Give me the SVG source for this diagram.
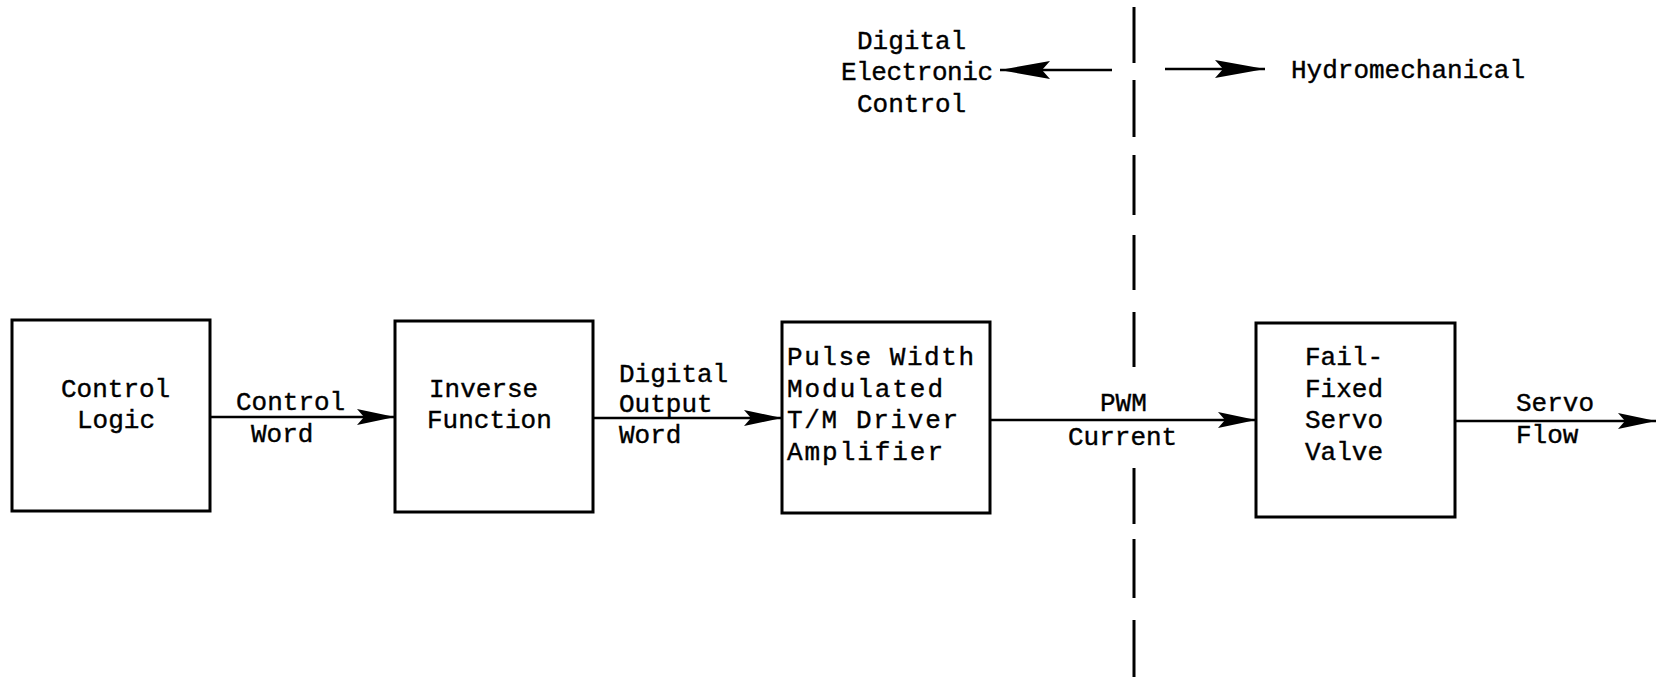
<svg xmlns="http://www.w3.org/2000/svg" width="1657" height="677" viewBox="0 0 1657 677">
  <style>
    .box { fill: #fff; stroke: #000; stroke-width: 3; }
    .wire { fill: none; stroke: #000; stroke-width: 2.6; }
    .divider { fill: none; stroke: #000; stroke-width: 3; }
    text { font-family: "Liberation Mono", "DejaVu Sans Mono", monospace; font-size: 26px; fill: #000; stroke: #000; stroke-width: 0.4; }
  </style>
  <defs>
    <marker id="head" viewBox="-40 -10 42 20" refX="0" refY="0" markerWidth="42" markerHeight="20" markerUnits="userSpaceOnUse" orient="auto">
      <path d="M0,0 L-38,-8 L-31,0 L-38,8 Z" fill="#000"/>
    </marker>
    <marker id="head-lg" viewBox="-54 -12 56 24" refX="0" refY="0" markerWidth="56" markerHeight="24" markerUnits="userSpaceOnUse" orient="auto">
      <path d="M0,0 L-50,-9 L-42,0 L-50,9 Z" fill="#000"/>
    </marker>
  </defs>

  <rect width="1657" height="677" fill="#fff"/>

  <!-- boundary between electronic and hydromechanical sides -->
  <g id="boundary">
    <path class="divider" d="M1134,7 V63 M1134,80 V137 M1134,155 V215 M1134,235 V290 M1134,312 V367 M1134,468 V524 M1134,539 V598 M1134,620 V677"/>
    <g id="label-electronic">
      <text x="857" y="49">Digital</text>
      <text x="841" y="80" textLength="152" lengthAdjust="spacing">Electronic</text>
      <text x="857" y="112">Control</text>
    </g>
    <g id="label-hydro">
      <text x="1291" y="78">Hydromechanical</text>
    </g>
  </g>

  <!-- signal path -->
  <g id="connectors">
    <line class="wire" x1="1112" y1="70" x2="1000" y2="70" marker-end="url(#head-lg)"/>
    <line class="wire" x1="1165" y1="69" x2="1265" y2="69" marker-end="url(#head-lg)"/>
    <line class="wire" x1="210" y1="417" x2="395" y2="417" marker-end="url(#head)"/>
    <line class="wire" x1="593" y1="418" x2="782" y2="418" marker-end="url(#head)"/>
    <line class="wire" x1="990" y1="420" x2="1256" y2="420" marker-end="url(#head)"/>
    <line class="wire" x1="1455" y1="421" x2="1656" y2="421" marker-end="url(#head)"/>
    <text x="236" y="410">Control</text>
    <text x="251" y="442">Word</text>
    <text x="619" y="382">Digital</text>
    <text x="619" y="412">Output</text>
    <text x="619" y="443">Word</text>
    <text x="1100" y="411">PWM</text>
    <text x="1068" y="445">Current</text>
    <text x="1516" y="411">Servo</text>
    <text x="1516" y="443">Flow</text>
  </g>

  <g id="control-logic">
    <rect class="box" x="12" y="320" width="198" height="191"/>
    <text x="61" y="397">Control</text>
    <text x="77" y="428">Logic</text>
  </g>

  <g id="inverse-function">
    <rect class="box" x="395" y="321" width="198" height="191"/>
    <text x="429" y="397">Inverse</text>
    <text x="427" y="428">Function</text>
  </g>

  <g id="pwm-driver">
    <rect class="box" x="782" y="322" width="208" height="191"/>
    <text x="787" y="365" textLength="187" lengthAdjust="spacing">Pulse Width</text>
    <text x="787" y="397" textLength="156" lengthAdjust="spacing">Modulated</text>
    <text x="787" y="428" textLength="171" lengthAdjust="spacing">T/M Driver</text>
    <text x="787" y="460" textLength="156" lengthAdjust="spacing">Amplifier</text>
  </g>

  <g id="servo-valve">
    <rect class="box" x="1256" y="323" width="199" height="194"/>
    <text x="1305" y="365">Fail-</text>
    <text x="1305" y="397">Fixed</text>
    <text x="1305" y="428">Servo</text>
    <text x="1305" y="460">Valve</text>
  </g>
</svg>
